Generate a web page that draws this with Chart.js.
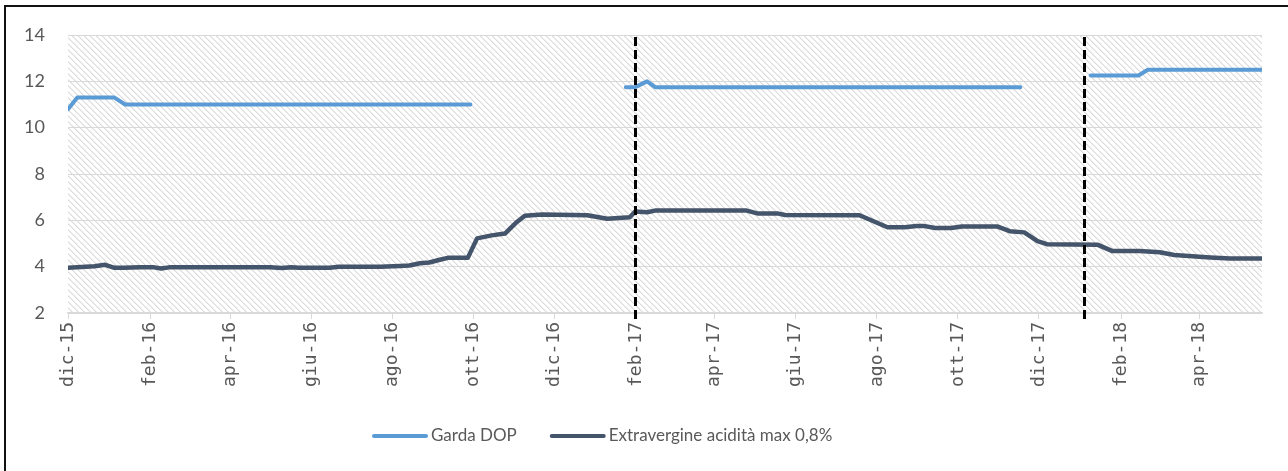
<!DOCTYPE html>
<html><head><meta charset="utf-8">
<script src="https://cdn.jsdelivr.net/npm/chart.js@4.4.1/dist/chart.umd.min.js"></script>
<style>html,body{margin:0;padding:0;background:#fff;} canvas{display:block;}</style>
</head><body>
<canvas id="c" width="1288" height="471"></canvas>
<script>
// ---- data ----
const tickLabels = ['dic-15','feb-16','apr-16','giu-16','ago-16','ott-16','dic-16','feb-17','apr-17','giu-17','ago-17','ott-17','dic-17','feb-18','apr-18'];
const tickDates  = ['2015-12-01','2016-02-01','2016-04-01','2016-06-01','2016-08-01','2016-10-01','2016-12-01','2017-02-01','2017-04-01','2017-06-01','2017-08-01','2017-10-01','2017-12-01','2018-02-01','2018-04-01'];
const axisStart = '2015-12-01';
const axisEnd   = '2018-05-18';

const gardaLabel  = 'Garda DOP';
const gardaDates  = ['2015-12-01','2015-12-08','2016-01-05','2016-01-13','2016-09-29','2016-11-15','2017-01-24','2017-01-31','2017-02-09','2017-02-15','2017-11-17','2017-12-15','2018-01-09','2018-02-14','2018-02-21','2018-05-18'];
const gardaValues = [10.8, 11.3, 11.3, 11.0, 11.0, null, 11.75, 11.75, 12.0, 11.75, 11.75, null, 12.25, 12.25, 12.5, 12.5];

const evoLabel  = 'Extravergine acidità max 0,8%';
const evoDates  = ['2015-12-01','2015-12-21','2015-12-29','2016-01-05','2016-01-12','2016-01-24','2016-02-04','2016-02-09','2016-02-15','2016-05-01','2016-05-10','2016-05-17','2016-05-23','2016-06-15','2016-06-22','2016-07-23','2016-08-07','2016-08-14','2016-08-22','2016-08-29','2016-09-06','2016-09-12','2016-09-27','2016-10-04','2016-10-15','2016-10-25','2016-11-03','2016-11-09','2016-11-22','2016-12-26','2017-01-10','2017-01-27','2017-01-31','2017-02-09','2017-02-15','2017-04-25','2017-05-03','2017-05-18','2017-05-24','2017-07-19','2017-08-09','2017-08-22','2017-08-31','2017-09-05','2017-09-14','2017-09-26','2017-10-04','2017-10-31','2017-11-09','2017-11-20','2017-11-30','2017-12-07','2018-01-14','2018-01-25','2018-02-15','2018-03-02','2018-03-13','2018-04-09','2018-04-24','2018-05-18'];
const evoValues = [3.95, 4.02, 4.08, 3.95, 3.95, 3.97, 3.97, 3.92, 3.97, 3.97, 3.94, 3.97, 3.95, 3.95, 4.0, 4.0, 4.03, 4.05, 4.15, 4.18, 4.3, 4.38, 4.38, 5.22, 5.35, 5.43, 5.93, 6.2, 6.25, 6.22, 6.07, 6.13, 6.38, 6.35, 6.42, 6.42, 6.3, 6.3, 6.23, 6.22, 5.7, 5.7, 5.76, 5.76, 5.67, 5.67, 5.73, 5.73, 5.53, 5.48, 5.1, 4.97, 4.95, 4.68, 4.68, 4.62, 4.5, 4.4, 4.35, 4.35];

const markerDates = ['2017-01-31','2018-01-04'];

// ---- helpers ----
const DAY = 864e5;
const toDay = d => (Date.parse(d) - Date.parse(axisStart)) / DAY;
const pts = (dates, vals) => dates.map((d, i) => ({ x: toDay(d), y: vals[i] }));

function makeHatch() {
  const n = 6;
  const c = document.createElement('canvas');
  c.width = n; c.height = n;
  const g = c.getContext('2d');
  g.fillStyle = '#ffffff'; g.fillRect(0, 0, n, n);
  for (let y = 0; y < n; y++) for (let x = 0; x < n; x++) {
    const k = (((x - y) % n) + n) % n;
    if (k === 0) { g.fillStyle = '#dcdcdc'; g.fillRect(x, y, 1, 1); }
    else if (k === 1) { g.fillStyle = '#ececec'; g.fillRect(x, y, 1, 1); }
  }
  return g.createPattern(c, 'repeat');
}
const hatch = makeHatch();

const bgPlugin = {
  id: 'bg',
  beforeDraw(chart) {
    const { ctx, chartArea: a } = chart;
    ctx.save();
    ctx.fillStyle = '#fff';
    ctx.fillRect(0, 0, chart.width, chart.height);
    ctx.fillStyle = hatch;
    ctx.fillRect(a.left, a.top, a.right - a.left, a.bottom - a.top);
    ctx.strokeStyle = '#111';
    ctx.lineWidth = 2;
    ctx.beginPath();
    ctx.moveTo(5, chart.height);
    ctx.lineTo(5, 6);
    ctx.lineTo(chart.width, 6);
    ctx.stroke();
    ctx.restore();
  }
};

const markerPlugin = {
  id: 'markers',
  afterDatasetsDraw(chart) {
    const { ctx, chartArea: a, scales } = chart;
    ctx.save();
    ctx.strokeStyle = '#000';
    ctx.lineWidth = 3;
    ctx.setLineDash([9, 4]);
    markerDates.forEach(d => {
      const x = Math.round(scales.x.getPixelForValue(toDay(d))) + 0.5;
      ctx.beginPath();
      ctx.moveTo(x, a.top + 2);
      ctx.lineTo(x, a.bottom + 7);
      ctx.stroke();
    });
    ctx.restore();
  }
};

const legendPlugin = {
  id: 'customLegend',
  afterDraw(chart) {
    const ctx = chart.ctx;
    ctx.save();
    ctx.font = '17px Lato';
    ctx.textBaseline = 'middle';
    ctx.textAlign = 'left';
    const y = 436;
    let x = 372;
    chart.data.datasets.forEach(ds => {
      ctx.strokeStyle = ds.borderColor;
      ctx.lineWidth = 4;
      ctx.lineCap = 'round';
      ctx.beginPath();
      ctx.moveTo(x + 2, y);
      ctx.lineTo(x + 54, y);
      ctx.stroke();
      ctx.fillStyle = '#595959';
      ctx.fillText(ds.label, x + 59, y);
      x += 59 + ctx.measureText(ds.label).width + 33;
    });
    ctx.restore();
  }
};

new Chart(document.getElementById('c'), {
  type: 'line',
  data: {
    datasets: [
      { label: gardaLabel, data: pts(gardaDates, gardaValues), borderColor: '#5b9bd5', backgroundColor: '#5b9bd5',
        borderWidth: 4, pointRadius: 0, borderCapStyle: 'round', borderJoinStyle: 'round', spanGaps: false, tension: 0 },
      { label: evoLabel, data: pts(evoDates, evoValues), borderColor: '#44546a', backgroundColor: '#44546a',
        borderWidth: 4.5, pointRadius: 0, borderCapStyle: 'round', borderJoinStyle: 'round', spanGaps: false, tension: 0 }
    ]
  },
  options: {
    responsive: false,
    animation: false,
    events: [],
    layout: { padding: { left: 0, right: 26, top: 35, bottom: 0 } },
    plugins: { legend: { display: false }, tooltip: { enabled: false } },
    scales: {
      x: {
        type: 'linear',
        min: 0,
        max: toDay(axisEnd),
        afterBuildTicks(s) { s.ticks = tickDates.map(d => ({ value: toDay(d) })); },
        afterFit(s) { s.height = 158; },
        grid: { drawOnChartArea: false, drawTicks: true, tickLength: 6, color: '#d9d9d9' },
        border: { color: '#d9d9d9', width: 1.5 },
        ticks: { autoSkip: false, maxRotation: 90, minRotation: 90, padding: 3, color: '#595959',
                 font: { family: 'DejaVu Sans Mono', size: 18 },
                 callback: (v, i) => tickLabels[i] }
      },
      y: {
        min: 2, max: 14,
        afterFit(s) { s.width = 68; },
        grid: { color: '#d9d9d9', drawTicks: false },
        border: { display: false },
        ticks: { stepSize: 2, padding: 23, color: '#595959', font: { family: 'Lato', size: 18 } }
      }
    }
  },
  plugins: [bgPlugin, markerPlugin, legendPlugin]
});
</script>
</body></html>
